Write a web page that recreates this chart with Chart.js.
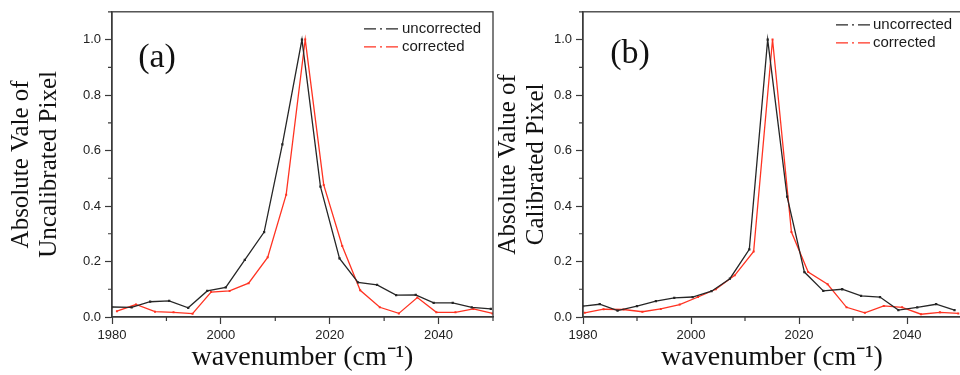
<!DOCTYPE html>
<html>
<head>
<meta charset="utf-8">
<script src="https://cdn.jsdelivr.net/npm/chart.js@4/dist/chart.umd.min.js"></script>
<style>
  html, body { margin: 0; padding: 0; width: 960px; height: 375px; overflow: hidden; background: #ffffff; }
  canvas { position: absolute; top: 0; }
  #chartA { left: 0; }
  #chartB { left: 480px; }
</style>
</head>
<body>
<canvas id="chartA" width="500" height="375"></canvas>
<canvas id="chartB" width="485" height="375"></canvas>
<script>
// (a) uncalibrated pixel
const aUncorrectedWn  = [1980, 1983.6, 1987.0, 1990.5, 1994.0, 1997.5, 2000.9, 2004.4, 2007.95, 2011.3, 2014.9,
                         2018.3, 2021.8, 2025.2, 2028.7, 2032.2, 2035.8, 2039.1, 2042.6, 2046.1, 2049.6];
const aUncorrectedVal = [0.036, 0.035, 0.055, 0.058, 0.033, 0.094, 0.107, 0.206, 0.306, 0.622, 1.0,
                         0.470, 0.211, 0.125, 0.116, 0.079, 0.080, 0.051, 0.051, 0.035, 0.029];
const aCorrectedWn    = [1980.9, 1984.4, 1987.9, 1991.3, 1994.8, 1998.2, 2001.6, 2005.1, 2008.6, 2012.0, 2015.5,
                         2018.9, 2022.3, 2025.6, 2029.2, 2032.7, 2036.1, 2039.6, 2043.1, 2046.4, 2049.9];
const aCorrectedVal   = [0.021, 0.045, 0.019, 0.017, 0.012, 0.090, 0.094, 0.122, 0.215, 0.441, 1.0,
                         0.476, 0.256, 0.096, 0.035, 0.013, 0.070, 0.017, 0.017, 0.029, 0.013];

// (b) calibrated pixel
const bUncorrectedWn  = [1980, 1983.1, 1986.4, 1990.0, 1993.5, 1996.9, 2000.3, 2003.8, 2007.2, 2010.8, 2014.2,
                         2017.8, 2021.0, 2024.5, 2028.0, 2031.5, 2035.0, 2038.4, 2041.9, 2045.4, 2048.8];
const bUncorrectedVal = [0.039, 0.046, 0.023, 0.039, 0.057, 0.069, 0.072, 0.093, 0.138, 0.244, 1.0,
                         0.434, 0.162, 0.094, 0.100, 0.076, 0.072, 0.025, 0.035, 0.046, 0.025];
const bCorrectedWn    = [1980.3, 1983.8, 1987.5, 1991.0, 1994.4, 1997.9, 2001.3, 2004.6, 2008.1, 2011.6, 2015.1,
                         2018.6, 2021.7, 2025.3, 2028.8, 2032.2, 2035.7, 2039.1, 2042.6, 2046.1, 2049.5];
const bCorrectedVal   = [0.015, 0.028, 0.027, 0.019, 0.029, 0.045, 0.072, 0.100, 0.150, 0.236, 1.0,
                         0.306, 0.162, 0.118, 0.035, 0.015, 0.040, 0.035, 0.010, 0.017, 0.013];

// axis ranges and labelled ticks
const xRange = [1980, 2050];
const yRange = [0, 1.1];
const xLabelled = [1980, 2000, 2020, 2040];
const yLabelled = [0.0, 0.2, 0.4, 0.6, 0.8, 1.0];
const seriesNames = ['uncorrected', 'corrected'];

const BLACK = '#262626';
const RED = '#ff3322';
const AXIS = '#3a3a3a';

const pairs = (xs, ys) => xs.map((x, i) => ({ x: x, y: ys[i] }));
const isLabelledX = v => xLabelled.some(t => Math.abs(t - v) < 1e-6);
const isLabelledY = v => yLabelled.some(t => Math.abs(t - v) < 1e-6);

// closed frame around the plot area
const framePlugin = {
  id: 'frame',
  afterDraw(chart) {
    const { ctx, chartArea: a } = chart;
    ctx.save();
    ctx.strokeStyle = AXIS;
    ctx.lineWidth = 1.3;
    ctx.strokeRect(a.left, a.top, a.right - a.left, a.bottom - a.top);
    ctx.restore();
  }
};

// short unlabelled ticks between the labelled ones
const minorTickPlugin = {
  id: 'minorTicks',
  afterDraw(chart) {
    const { ctx, chartArea: a, scales } = chart;
    ctx.save();
    ctx.strokeStyle = AXIS;
    ctx.lineWidth = 1.2;
    ctx.beginPath();
    scales.x.ticks.forEach(t => {
      if (isLabelledX(t.value)) return;
      const px = scales.x.getPixelForValue(t.value);
      ctx.moveTo(px, a.bottom);
      ctx.lineTo(px, a.bottom + 4);
    });
    scales.y.ticks.forEach(t => {
      if (isLabelledY(t.value)) return;
      const py = scales.y.getPixelForValue(t.value);
      ctx.moveTo(a.left, py);
      ctx.lineTo(a.left - 4, py);
    });
    ctx.stroke();
    ctx.restore();
  }
};

// dash-dot key in the upper right corner, and the panel letter
const keyPlugin = {
  id: 'panelKey',
  afterDraw(chart, args, opts) {
    const { ctx, chartArea: a } = chart;
    ctx.save();
    const colors = [BLACK, RED];
    seriesNames.forEach((name, i) => {
      const y = a.top + opts.rows[i];
      ctx.strokeStyle = colors[i];
      ctx.lineWidth = 1.3;
      ctx.setLineDash([12, 4, 2, 4]);
      ctx.beginPath();
      ctx.moveTo(a.left + opts.keyX, y);
      ctx.lineTo(a.left + opts.keyX + opts.keyLen, y);
      ctx.stroke();
      ctx.setLineDash([]);
      ctx.fillStyle = '#1a1a1a';
      ctx.font = '15px "Liberation Sans", Arial, sans-serif';
      ctx.textBaseline = 'middle';
      ctx.textAlign = 'left';
      ctx.fillText(name, a.left + opts.textX, y);
    });
    ctx.fillStyle = '#111';
    ctx.font = '34px "Liberation Serif", "Times New Roman", serif';
    ctx.textAlign = 'center';
    ctx.textBaseline = 'middle';
    ctx.fillText(opts.letter, a.left + opts.letterX, a.top + opts.letterY);
    ctx.restore();
  }
};

function buildChart(id, cfg) {
  const tickFont = { family: '"Liberation Sans", Arial, sans-serif', size: 13 };
  return new Chart(document.getElementById(id), {
    type: 'line',
    data: {
      datasets: [
        {
          label: seriesNames[0], data: pairs(cfg.ux, cfg.uy),
          borderColor: BLACK, backgroundColor: BLACK, borderWidth: 1.3,
          pointStyle: 'rect', pointRadius: 1.6, pointBorderWidth: 0, tension: 0
        },
        {
          label: seriesNames[1], data: pairs(cfg.cx, cfg.cy),
          borderColor: RED, backgroundColor: RED, borderWidth: 1.3,
          pointStyle: 'rect', pointRadius: 1.4, pointBorderWidth: 0, tension: 0
        }
      ]
    },
    options: {
      responsive: false,
      animation: false,
      events: [],
      layout: { padding: { left: 0, right: cfg.padRight, top: 9, bottom: 0 } },
      plugins: {
        legend: { display: false },
        tooltip: { enabled: false },
        panelKey: cfg.key
      },
      scales: {
        x: {
          type: 'linear', min: xRange[0], max: xRange[1],
          afterFit: s => { s.height = 58; },
          ticks: {
            stepSize: 10, autoSkip: false, maxRotation: 0, padding: 4,
            color: '#222', font: tickFont,
            callback: v => (isLabelledX(v) ? String(v) : '')
          },
          grid: {
            drawOnChartArea: false, tickLength: 7, tickWidth: 1.2,
            tickColor: c => (isLabelledX(c.tick.value) ? AXIS : 'rgba(0,0,0,0)')
          },
          border: { color: AXIS, width: 1.3 },
          title: {
            display: true, text: 'wavenumber (cm\u207B\u00B9)', color: '#111',
            font: { family: '"Liberation Serif", "Times New Roman", serif', size: 28, lineHeight: 1.2 },
            padding: { top: 0, bottom: 1 }
          }
        },
        y: {
          min: yRange[0], max: yRange[1],
          afterFit: s => { s.width = cfg.yWidth; },
          ticks: {
            stepSize: 0.1, autoSkip: false, padding: 4,
            color: '#222', font: tickFont,
            callback: v => (isLabelledY(v) ? v.toFixed(1) : '')
          },
          grid: {
            drawOnChartArea: false, tickLength: 7, tickWidth: 1.2,
            tickColor: c => (isLabelledY(c.tick.value) ? AXIS : 'rgba(0,0,0,0)')
          },
          border: { color: AXIS, width: 1.3 },
          title: {
            display: true, text: cfg.yTitle, color: '#111',
            font: { family: '"Liberation Serif", "Times New Roman", serif', size: 25, lineHeight: 1.1 },
            padding: { top: cfg.yTitlePad, bottom: 0 }
          }
        }
      }
    },
    plugins: [framePlugin, minorTickPlugin, keyPlugin]
  });
}

buildChart('chartA', {
  ux: aUncorrectedWn, uy: aUncorrectedVal, cx: aCorrectedWn, cy: aCorrectedVal,
  yTitle: ['Absolute Vale of', 'Uncalibrated Pixel'],
  yWidth: 112, yTitlePad: 8, padRight: 7,
  key: { rows: [17, 35], keyX: 252, keyLen: 34, textX: 290, letter: '(a)', letterX: 45, letterY: 46 }
});

buildChart('chartB', {
  ux: bUncorrectedWn, uy: bUncorrectedVal, cx: bCorrectedWn, cy: bCorrectedVal,
  yTitle: ['Absolute Value of', 'Calibrated Pixel'],
  yWidth: 103, yTitlePad: 15, padRight: 0,
  key: { rows: [13, 31], keyX: 253, keyLen: 36, textX: 290, letter: '(b)', letterX: 47, letterY: 42 }
});
</script>
</body>
</html>
